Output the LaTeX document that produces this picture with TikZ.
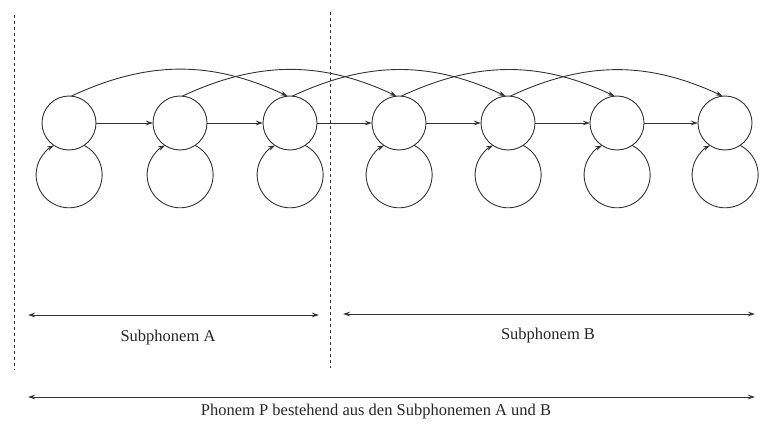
\documentclass[tikz,border=0pt]{standalone}
\usepackage{fontspec}
\setmainfont{Liberation Serif}
\usetikzlibrary{arrows.meta,calc}
\begin{document}
\begin{tikzpicture}[x=1pt,y=1pt,
  ink/.style={draw=black!80,line width=0.9pt},
  state/.style={ink,circle,minimum size=54pt,inner sep=0pt,outer sep=0pt},
  arr/.style={ink,-{Stealth[length=7pt,width=4.5pt]}},
  dbl/.style={ink,{Stealth[length=7pt,width=4.5pt]}-{Stealth[length=7pt,width=4.5pt]}},
  sep/.style={draw=black!80,line width=0.9pt,dash pattern=on 3pt off 3pt},
  lbl/.style={font=\fontsize{16.5}{19}\selectfont,text=black!85}]
\useasboundingbox (0,0) rectangle (760,424);
% states
\foreach \i/\x in {1/69,2/180,3/290,4/399,5/508,6/617,7/725}{
  \node[state] (n\i) at (\x,301) {};
}
% self loops
\foreach \i in {1,...,7}{
  \draw[arr] (n\i.-56.3) arc[start angle=63, end angle=-243, radius=33pt];
}
% forward transitions
\foreach \i/\j in {1/2,2/3,3/4,4/5,5/6,6/7}{
  \draw[arr] (n\i.east) -- (n\j.west);
}
% skip transitions
\foreach \i/\j in {1/3,2/4,3/5,4/6,5/7}{
  \draw[arr] (n\i.85) to[bend left=25] (n\j.95);
}
% separators
\coordinate (s1t) at (14,409);
\coordinate (s1b) at (14,54);
\coordinate (s2t) at (330,412);
\coordinate (s2b) at (330,56);
\draw[sep] (s1t) -- (s1b);
\draw[sep] (s2t) -- (s2b);
% spans
\coordinate (a1) at (28,109);
\coordinate (a2) at (319,109);
\coordinate (b1) at (343,110);
\coordinate (b2) at (755,110);
\coordinate (p1) at (28,27);
\coordinate (p2) at (755,27);
\draw[dbl] (a1) -- (a2);
\draw[dbl] (b1) -- (b2);
\draw[dbl] (p1) -- (p2);
\node[lbl] (ta) at (168,86) {Subphonem A};
\node[lbl] (tb) at (548,88) {Subphonem B};
\node[lbl] (tp) at (376,12) {Phonem P bestehend aus den Subphonemen A und B};
\end{tikzpicture}
\end{document}
